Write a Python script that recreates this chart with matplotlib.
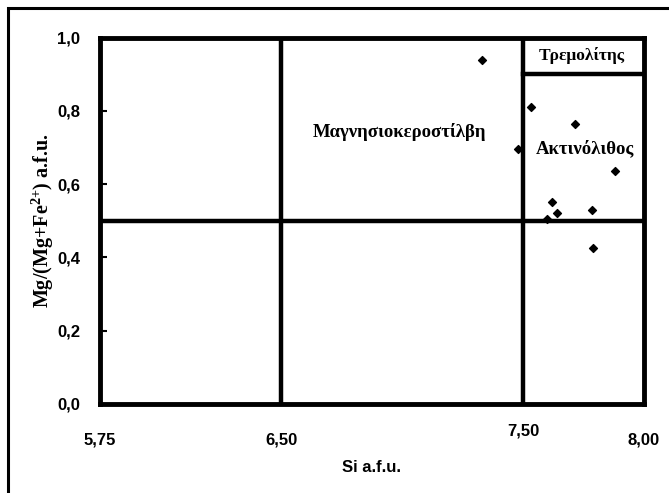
import numpy as np
import matplotlib
matplotlib.use("Agg")
import matplotlib.pyplot as plt
from matplotlib.patches import Rectangle

plt.rcParams["mathtext.fontset"] = "custom"
plt.rcParams["mathtext.rm"] = "Liberation Serif:bold"
plt.rcParams["mathtext.bf"] = "Liberation Serif:bold"

# -----------------------------
# DATA
# -----------------------------
si = [7.331, 7.533, 7.714, 7.480, 7.880, 7.619, 7.642, 7.598, 7.784, 7.788]
mg_ratio = [0.939, 0.811, 0.763, 0.695, 0.637, 0.550, 0.522, 0.504, 0.529, 0.426]

x_ticks = [5.75, 6.50, 7.50, 8.00]
x_labels = ["5,75", "6,50", "7,50", "8,00"]
y_ticks = [0.0, 0.2, 0.4, 0.6, 0.8, 1.0]
y_labels = ["0,0", "0,2", "0,4", "0,6", "0,8", "1,0"]

# field boundaries
si_bounds = [6.5, 7.5]
mg_bound = 0.5
tremolite_bound = 0.9

# -----------------------------
# FIGURE
# -----------------------------
fig = plt.figure(figsize=(6.69, 4.93), dpi=100)
ax = fig.add_axes([99.5 / 669, 1 - 404 / 493, (644 - 99.5) / 669, (404 - 37.5) / 493])

# outer frame (cut off on the right / bottom)
fig.patches.append(Rectangle((8 / 669, -0.1), 1.2, 1 - 8 / 493 + 0.1,
                             transform=fig.transFigure, fill=False,
                             edgecolor="black", linewidth=2.2, zorder=0))

ax.set_xlim(5.75, 8.0)
ax.set_ylim(0, 1.0)

for s in ax.spines.values():
    s.set_linewidth(3.5)

lw = 3.2
for xb in si_bounds:
    ax.axvline(xb, color="black", linewidth=lw)
ax.axhline(mg_bound, color="black", linewidth=lw)
ax.plot([7.5, 8.0], [tremolite_bound, tremolite_bound], color="black", linewidth=lw)

ax.scatter(si, mg_ratio, marker="D", s=16, color="black", zorder=5)

# ticks
ax.set_yticks(y_ticks)
ax.set_yticklabels(y_labels, fontfamily="Liberation Sans", fontweight="bold", fontsize=12)
ax.tick_params(axis="y", direction="in", length=5, width=1.5, pad=14)
ax.set_xticks([])
for xt, lab in zip(x_ticks, x_labels):
    yoff = -0.075 if lab == "7,50" else -0.097
    ax.text(xt, yoff, lab, ha="center", va="center", fontfamily="Liberation Sans",
            fontweight="bold", fontsize=12, transform=ax.get_xaxis_transform())

ax.set_xlabel("Si a.f.u.", fontfamily="Liberation Sans", fontweight="bold",
              fontsize=12, labelpad=40)
ax.set_ylabel(r"Mg/(Mg+Fe$^{2{+}}$) a.f.u.", fontfamily="Liberation Serif",
              fontweight="bold", fontsize=14.5, labelpad=1)

# field names
serif = dict(fontfamily="Liberation Serif", fontweight="bold", fontsize=13.5,
             ha="center", va="center")
ax.text(6.989, 0.742, "Μαγνησιοκεροστίλβη", **serif)
ax.text(7.756, 0.699, "Ακτινόλιθος", **serif)
ax.text(7.744, 0.952, "Τρεμολίτης", fontfamily="Liberation Serif", fontweight="bold",
        fontsize=12.5, ha="center", va="center")

plt.savefig("out.png", dpi=100)
